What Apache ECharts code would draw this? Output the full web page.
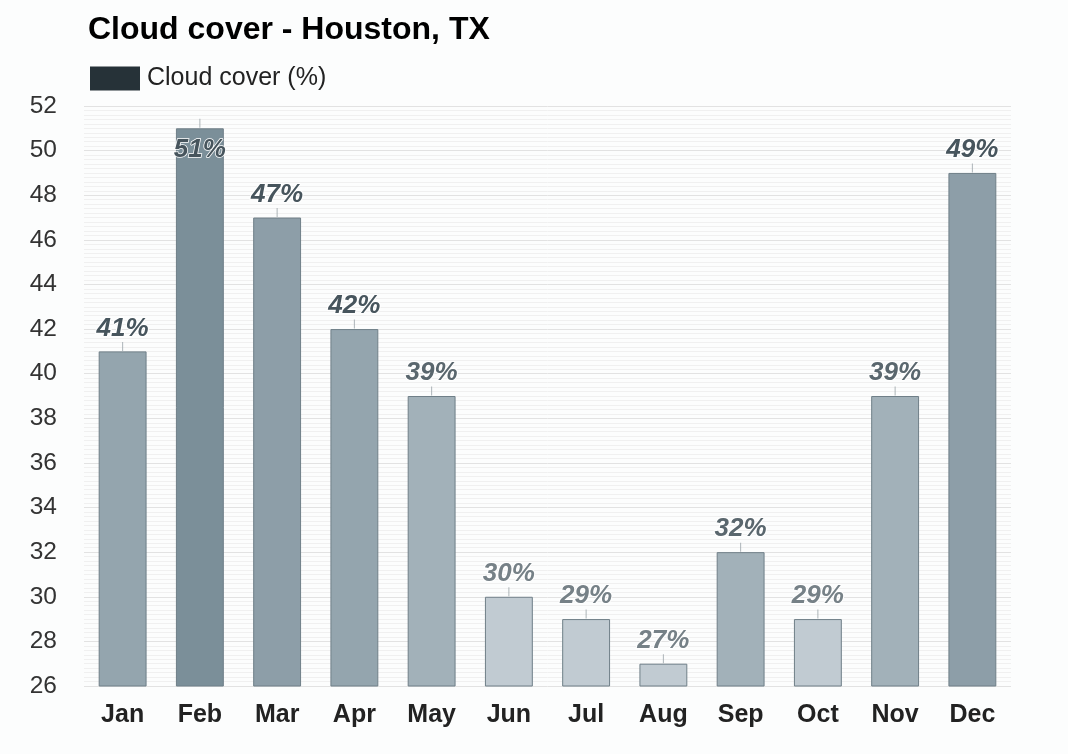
<!DOCTYPE html>
<html>
<head>
<meta charset="UTF-8">
<title>Cloud cover - Houston, TX</title>
<script src="https://cdn.jsdelivr.net/npm/echarts@6/dist/echarts.min.js"></script>
<style>
	html, body { margin: 0; padding: 0; background: #fcfdfd; }
	#myChart { width: 1068px; height: 754px; }
</style>
</head>
<body>
<div id="myChart"></div>
<script>
	var months = ['Jan', 'Feb', 'Mar', 'Apr', 'May', 'Jun', 'Jul', 'Aug', 'Sep', 'Oct', 'Nov', 'Dec'];
	var cloudCover = [41, 51, 47, 42, 39, 30, 29, 27, 32, 29, 39, 49];
	var yTicks = [26, 28, 30, 32, 34, 36, 38, 40, 42, 44, 46, 48, 50, 52];

	var font = 'Liberation Sans, Arial, sans-serif';

	// darker bars for cloudier months
	function barColor(v) {
		if (v >= 51) return '#7b8f99';
		if (v >= 47) return '#8d9ea8';
		if (v >= 41) return '#94a5ae';
		if (v >= 32) return '#a2b1b9';
		return '#c1cbd2';
	}
	function labelColor(v) {
		if (v >= 41) return '#47555d';
		if (v >= 32) return '#5a676e';
		return '#768187';
	}

	var barData = cloudCover.map(function(v) {
		var item = {
			value: v,
			itemStyle: { color: barColor(v) },
			label: { color: labelColor(v) }
		};
		// top bar: label pushed down into the bar, like the original
		if (v >= yTicks[yTicks.length - 1] - 1) {
			item.label.offset = [0, 45];
			item.label.textBorderWidth = 1.5;
		}
		return item;
	});

	var myChart = echarts.init(document.getElementById('myChart'));
	myChart.setOption({
		animation: false,
		backgroundColor: '#fcfdfd',
		title: {
			text: 'Cloud cover - Houston, TX',
			left: 83,
			top: 9,
			textStyle: { fontFamily: font, fontSize: 32, fontWeight: 'bold', color: '#000' }
		},
		legend: {
			left: 85,
			top: 61,
			icon: 'rect',
			itemWidth: 50,
			itemHeight: 24,
			itemGap: 10,
			data: [{ name: 'Cloud cover (%)', itemStyle: { color: '#263238', borderWidth: 0 } }],
			textStyle: { fontFamily: font, fontSize: 25, color: '#222', padding: [0, 0, 0, 2] }
		},
		grid: {
			left: 84,
			right: 57,
			top: 106,
			bottom: 68,
			containLabel: false
		},
		xAxis: {
			type: 'category',
			data: months,
			axisLine: { show: false },
			axisTick: { show: false },
			axisLabel: { fontFamily: font, fontSize: 25, fontWeight: 'bold', color: '#222', margin: 17 }
		},
		yAxis: {
			type: 'value',
			min: yTicks[0],
			max: yTicks[yTicks.length - 1],
			interval: 2,
			axisLine: { show: false },
			axisTick: { show: false },
			axisLabel: { fontFamily: font, fontSize: 24.5, color: '#333', margin: 27 },
			splitLine: { lineStyle: { color: '#e2e2e2', width: 1 } },
			minorTick: { show: false, splitNumber: 10 },
			minorSplitLine: { show: true, lineStyle: { color: '#f0f0f0', width: 1 } }
		},
		series: [{
			name: 'Cloud cover (%)',
			type: 'bar',
			barWidth: '62%',
			data: barData,
			itemStyle: { borderColor: '#6f7f88', borderWidth: 1 },
			label: {
				show: true,
				position: 'top',
				distance: 10,
				formatter: '{c}%',
				fontFamily: font,
				fontSize: 26,
				fontWeight: 'bold',
				fontStyle: 'italic',
				textBorderColor: '#fff',
				textBorderWidth: 2
			},
			z: 2
		}, {
			name: 'tick',
			type: 'scatter',
			data: cloudCover,
			symbol: 'rect',
			symbolSize: [1, 9],
			symbolOffset: [0, -5],
			itemStyle: { color: '#9aa3a8' },
			silent: true,
			z: 3
		}]
	});
</script>
</body>
</html>
